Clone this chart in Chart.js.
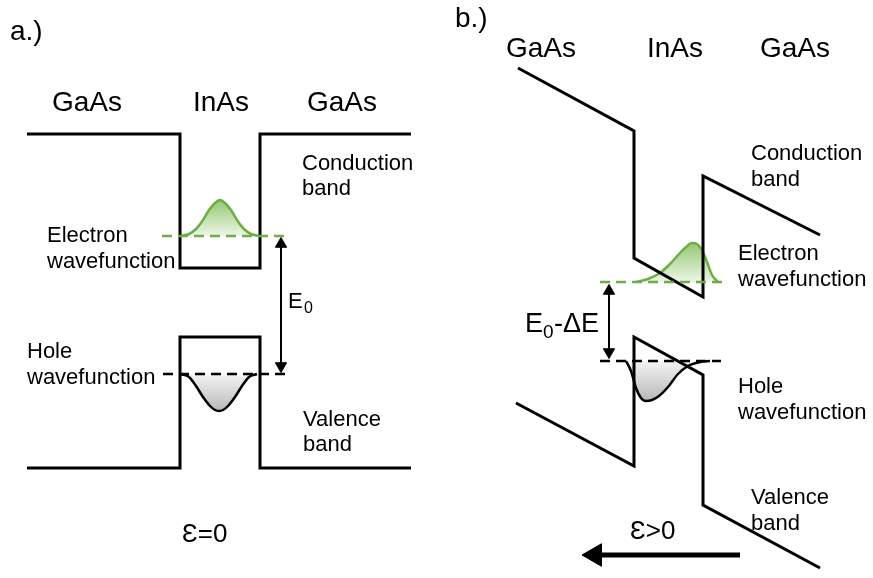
<!DOCTYPE html>
<html>
<head>
<meta charset="utf-8">
<script src="https://cdn.jsdelivr.net/npm/chart.js@4.4.0/dist/chart.umd.min.js"></script>
<style>
html, body { margin: 0; padding: 0; background: #fff; }
canvas { display: block; }
</style>
</head>
<body>
<canvas id="diagram" width="873" height="578"></canvas>
<script>
// Painel a: poço sem campo elétrico (pontos [x, y] no espaço do desenho)
const condA = [[27,134],[180,134],[180,268],[260,268],[260,134],[411,134]];
const valA = [[27,468],[180,468],[180,337],[260,337],[260,468],[411,468]];
const eLevelA = [[162,236],[287,236]];
const hLevelA = [[163,374],[287,374]];
const eWaveA = [[180,236],[189,234],[196,229],[203,220],[209,210],[215,203],[220,200],[225,203],[231,210],[237,220],[244,229],[251,234],[260,236]];
const hWaveA = [[181,374],[189,377],[196,386],[203,397],[210,406],[215,410],[219,411],[223,410],[228,406],[235,397],[242,386],[249,377],[257,374]];
const arrowA = [[281,238],[281,372]];

// Painel b: poço inclinado pelo campo
const condB = [[518,68],[634,131],[634,258],[703,297],[703,176],[820,235]];
const valB = [[516,403],[634,466],[634,337],[703,375],[703,505],[820,568]];
const eLevelB = [[600,282],[723,282]];
const hLevelB = [[600,361],[721,361]];
const eWaveB = [[636,282],[648,279],[660,273],[670,264],[679,254],[686,247],[692,243],[697,244],[702,250],[707,262],[712,275],[718,282]];
const hWaveB = [[626,361],[631,371],[636,388],[641,398],[646,401],[652,400],[659,396],[668,387],[678,374],[688,366],[700,362],[710,361]];
const arrowB = [[609,285],[609,358]];
const fieldArrow = [[600,555],[740,555]];

// Textos
const headers = ['GaAs', 'InAs', 'GaAs'];
const panelTags = ['a.)', 'b.)'];
const bandNames = [['Conduction', 'band'], ['Valence', 'band']];
const waveNames = [['Electron', 'wavefunction'], ['Hole', 'wavefunction']];
const fieldLabels = ['\u0190=0', '\u0190>0'];

const GREEN = '#70ad47';
const FONT = '"Liberation Sans", Arial, sans-serif';

const pts = arr => arr.map(([x, y]) => ({ x, y }));

function band(arr) {
    return { data: pts(arr), showLine: true, borderColor: '#000', borderWidth: 3, pointRadius: 0, tension: 0, order: 2 };
}
function level(arr, color) {
    return { data: pts(arr), showLine: true, borderColor: color, borderWidth: 2.5, borderDash: [10, 6], pointRadius: 0, order: 0 };
}
function wave(arr, color, top, bottom, c1, c2) {
    const base = arr[0][1];
    return {
        data: pts(arr), showLine: true, borderColor: color, borderWidth: 2.5, pointRadius: 0,
        tension: 0.4, cubicInterpolationMode: 'monotone',
        fill: { value: base },
        backgroundColor: ctx => {
            const g = ctx.chart.ctx.createLinearGradient(0, top, 0, bottom);
            g.addColorStop(0, c1);
            g.addColorStop(1, c2);
            return g;
        },
        order: 5
    };
}
function head(x, y, rot, r) {
    return { data: [{ x, y }], pointStyle: 'triangle', rotation: rot, pointRadius: r, pointBackgroundColor: '#000', pointBorderColor: '#000', pointBorderWidth: 1, order: 1 };
}

// Desenha os textos por cima
const textPlugin = {
    id: 'texts',
    afterDatasetsDraw(chart) {
        const c = chart.ctx;
        const sx = chart.scales.x, sy = chart.scales.y;
        const put = (t, x, y, size, align) => {
            c.font = size + 'px ' + FONT;
            c.textAlign = align || 'left';
            c.textBaseline = 'alphabetic';
            c.fillText(t, sx.getPixelForValue(x), sy.getPixelForValue(y));
        };
        c.save();
        c.fillStyle = '#000';
        put(panelTags[0], 10, 40, 28);
        put(panelTags[1], 455, 27, 28);
        [87, 221, 342].forEach((x, i) => put(headers[i], x, 111, 28, 'center'));
        [541, 675, 795].forEach((x, i) => put(headers[i], x, 57, 28, 'center'));

        put(bandNames[0][0], 302, 170, 22); put(bandNames[0][1], 302, 195, 22);
        put(bandNames[1][0], 303, 426, 22); put(bandNames[1][1], 303, 451, 22);
        put(waveNames[0][0], 47, 242, 22); put(waveNames[0][1], 47, 268, 22);
        put(waveNames[1][0], 27, 358, 22); put(waveNames[1][1], 27, 384, 22);

        put(bandNames[0][0], 751, 160, 22); put(bandNames[0][1], 751, 186, 22);
        put(bandNames[1][0], 751, 504, 22); put(bandNames[1][1], 751, 530, 22);
        put(waveNames[0][0], 738, 260, 22); put(waveNames[0][1], 738, 286, 22);
        put(waveNames[1][0], 738, 393, 22); put(waveNames[1][1], 738, 419, 22);

        // E0 e E0-ΔE com subscrito
        put('E', 288, 308, 22); put('0', 304, 313, 16);
        put('E', 525, 332, 27); put('0', 543, 338, 19); put('-\u0394E', 554, 332, 27);

        put(fieldLabels[0], 182, 542, 26);
        put(fieldLabels[1], 630, 539, 26);
        c.restore();
    }
};

new Chart(document.getElementById('diagram'), {
    type: 'scatter',
    data: {
        datasets: [
            level(eLevelA, GREEN), level(hLevelA, '#000'),
            level(eLevelB, GREEN), level(hLevelB, '#000'),
            band(condA), band(valA), band(condB), band(valB),
            { data: pts(arrowA), showLine: true, borderColor: '#000', borderWidth: 2, pointRadius: 0, order: 1 },
            { data: pts(arrowB), showLine: true, borderColor: '#000', borderWidth: 2, pointRadius: 0, order: 1 },
            { data: pts(fieldArrow), showLine: true, borderColor: '#000', borderWidth: 5, pointRadius: 0, order: 1 },
            head(281, 244, 0, 6.5), head(281, 366, 180, 6.5),
            head(609, 291, 0, 6.5), head(609, 352, 180, 6.5),
            head(595, 555, 270, 13),
            wave(eWaveA, GREEN, 200, 236, '#94c872', '#eef6e8'),
            wave(hWaveA, '#000', 374, 411, '#f4f4f4', '#b8b8b8'),
            wave(eWaveB, GREEN, 243, 282, '#94c872', '#eef6e8'),
            wave(hWaveB, '#000', 361, 401, '#f4f4f4', '#b8b8b8')
        ]
    },
    options: {
        responsive: false,
        animation: false,
        devicePixelRatio: 1,
        layout: { padding: 0, autoPadding: false },
        plugins: { legend: { display: false }, tooltip: { enabled: false } },
        scales: {
            x: { type: 'linear', min: 0, max: 873, display: false },
            y: { type: 'linear', min: 0, max: 578, reverse: true, display: false }
        }
    },
    plugins: [textPlugin]
});
</script>
</body>
</html>
